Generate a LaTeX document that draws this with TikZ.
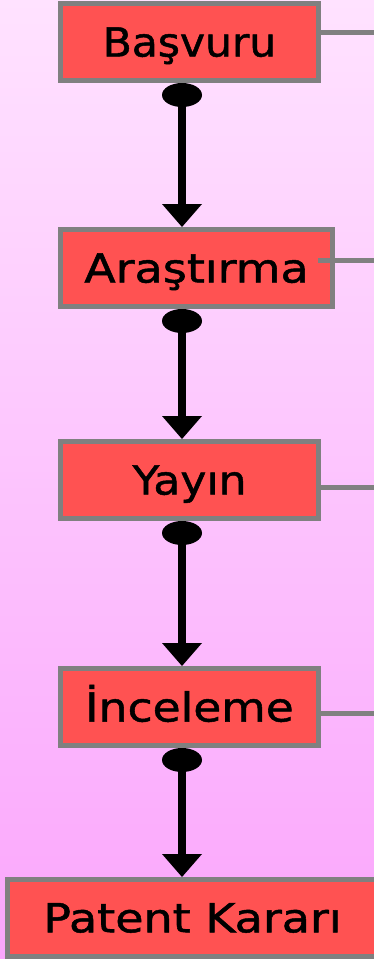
\documentclass[tikz,border=0pt]{standalone}
\usepackage{fontspec}
\usepackage{graphicx}
\setmainfont{DejaVu Sans}
\newfontfamily\boxfont{DejaVu Sans}[FakeBold=1.2]
\usetikzlibrary{arrows.meta}
\definecolor{boxred}{RGB}{255,82,82}
\definecolor{boxgrey}{RGB}{128,128,128}
\definecolor{bgtop}{RGB}{255,226,255}
\definecolor{bgbot}{RGB}{250,166,252}
\newcommand{\wordsx}[2]{\scalebox{#1}[1]{#2}}
\begin{document}
\begin{tikzpicture}[x=1pt,y=-1pt,
  stepbox/.style={draw=boxgrey, fill=boxred, line width=5pt, inner sep=0pt,
    font=\boxfont\fontsize{40}{48}\selectfont, text height=29pt, text depth=0pt},
  conn/.style={line width=8pt,
    {Ellipse[length=24pt,width=40pt,line width=0pt]}-{Triangle[length=23pt,width=40pt,line width=0pt]}},
  side/.style={draw=boxgrey, line width=5pt}]
\shade[top color=bgtop, bottom color=bgbot] (0,0) rectangle (374,959);
\useasboundingbox (0,0) rectangle (374,959);
\node[stepbox, minimum width=258pt, minimum height=77pt] (b1) at (189.5,42) {\wordsx{1.06}{Başvuru}};
\node[stepbox, minimum width=272pt, minimum height=77pt] (b2) at (196.5,268) {\wordsx{1.15}{Araştırma}};
\node[stepbox, minimum width=258pt, minimum height=77pt] (b3) at (189.5,480) {\wordsx{1.10}{Yayın}};
\node[stepbox, minimum width=258pt, minimum height=77pt] (b4) at (189.5,707) {\wordsx{1.14}{İnceleme}};
\node[stepbox, minimum width=370pt, minimum height=76.5pt] (b5) at (192.5,917.75) {\wordsx{1.15}{Patent Kararı}};
\coordinate (ax) at (182,0);
\draw[conn] (b1.south -| ax) -- (b2.north -| ax);
\draw[conn] (b2.south -| ax) -- (b3.north -| ax);
\draw[conn] (b3.south -| ax) -- (b4.north -| ax);
\draw[conn] (b4.south -| ax) -- (b5.north -| ax);
\coordinate (e1) at (376,32);
\coordinate (s2) at (318,260);
\coordinate (e2) at (376,260);
\coordinate (e3) at (376,487);
\coordinate (e4) at (376,713);
\draw[side] (b1.east |- e1) -- (e1);
\draw[side] (s2) -- (e2);
\draw[side] (b3.east |- e3) -- (e3);
\draw[side] (b4.east |- e4) -- (e4);
\end{tikzpicture}
\end{document}
